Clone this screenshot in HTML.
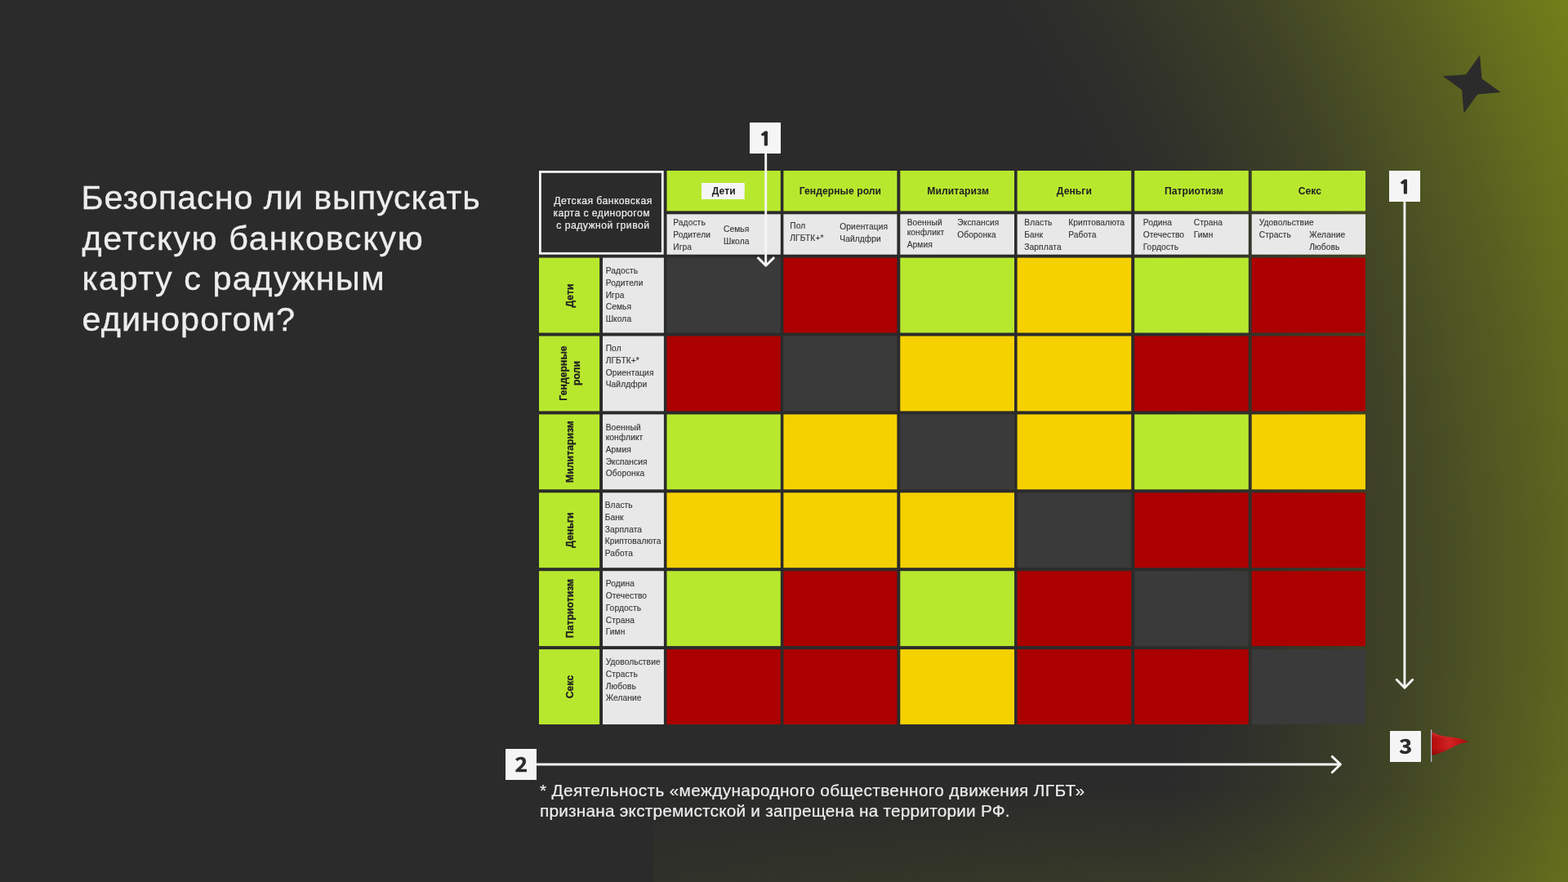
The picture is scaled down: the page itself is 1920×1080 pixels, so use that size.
<!DOCTYPE html>
<html lang="ru"><head><meta charset="utf-8"><title>Безопасно ли выпускать детскую банковскую карту с радужным единорогом?</title>
<style>
html,body{margin:0;padding:0;}
body{width:1920px;height:1080px;overflow:hidden;background:#2b2b2b;font-family:"Liberation Sans","DejaVu Sans",sans-serif;position:relative;}
.bg{position:absolute;left:0;top:0;width:1920px;height:1080px;}
.abs{position:absolute;}
.c{position:absolute;}
.title{position:absolute;left:100.6px;top:218.3px;font-size:41.3px;line-height:49.6px;color:#ededed;white-space:nowrap;-webkit-text-stroke:0.35px #ededed;}
.title div{height:49.6px;}
.foot{position:absolute;left:661px;top:954.8px;font-size:20.8px;line-height:25px;color:#ededed;white-space:nowrap;letter-spacing:0.345px;-webkit-text-stroke:0.2px #ededed;}
.h{position:absolute;font-weight:bold;font-size:12.1px;line-height:16px;color:#222;text-align:center;white-space:nowrap;letter-spacing:0.08px;}
.t{position:absolute;font-size:10.2px;line-height:14px;height:14px;color:#383838;white-space:nowrap;letter-spacing:0.1px;-webkit-text-stroke:0.15px #383838;}
.v{position:absolute;font-weight:bold;font-size:12.2px;line-height:16px;color:#222;text-align:center;white-space:nowrap;transform:translate(-50%,-50%) rotate(-90deg);letter-spacing:0.05px;-webkit-text-stroke:0.3px #222;}
.n{position:absolute;width:38px;height:38px;background:#f5f5f5;color:#2b2b2b;font-family:"Noto Sans CJK SC","Liberation Sans",sans-serif;font-weight:bold;font-size:24.5px;line-height:36.4px;text-align:center;-webkit-text-stroke:0.45px #2b2b2b;}
.n1{font-family:"NanumGothic","Noto Sans CJK SC","Liberation Sans",sans-serif;font-size:21.8px;line-height:41.6px;text-indent:0.7px;-webkit-text-stroke:1px #2b2b2b;}
.card{position:absolute;left:660px;top:209px;width:146.7px;height:96.7px;border:3px solid #f5f5f5;background:#2b2b2b;}
.cardt{position:absolute;font-size:12.2px;line-height:15px;color:#ededed;white-space:nowrap;letter-spacing:0.3px;-webkit-text-stroke:0.2px #ededed;}
</style></head><body>
<div class="bg" style="background:radial-gradient(circle 1960px at 150px 730px,rgba(116,129,25,0.000) 1300px,rgba(116,129,25,0.018) 1330px,rgba(116,129,25,0.040) 1360px,rgba(116,129,25,0.066) 1390px,rgba(116,129,25,0.096) 1420px,rgba(116,129,25,0.134) 1450px,rgba(116,129,25,0.173) 1480px,rgba(116,129,25,0.209) 1510px,rgba(116,129,25,0.247) 1540px,rgba(116,129,25,0.292) 1570px,rgba(116,129,25,0.346) 1600px,rgba(116,129,25,0.405) 1630px,rgba(116,129,25,0.469) 1660px,rgba(116,129,25,0.526) 1690px,rgba(116,129,25,0.582) 1720px,rgba(116,129,25,0.645) 1750px,rgba(116,129,25,0.712) 1780px,rgba(116,129,25,0.775) 1810px,rgba(116,129,25,0.835) 1840px,rgba(116,129,25,0.899) 1870px,rgba(116,129,25,0.962) 1900px,rgba(116,129,25,0.990) 1930px,rgba(116,129,25,1.000) 1960px);"></div>
<div class="abs" style="left:800px;top:960px;width:1120px;height:120px;background:linear-gradient(90deg,rgba(116,129,25,0.075),rgba(116,129,25,0.17) 560px,rgba(116,129,25,0.12) 1120px);-webkit-mask-image:linear-gradient(180deg,rgba(0,0,0,0),rgba(0,0,0,1));mask-image:linear-gradient(180deg,rgba(0,0,0,0),rgba(0,0,0,1));"></div>
<div class="title"><div style="letter-spacing:0.93px;margin-left:-1px">Безопасно ли выпускать</div><div style="letter-spacing:1.67px">детскую банковскую</div><div style="letter-spacing:1.52px">карту с радужным</div><div style="letter-spacing:1.1px">единорогом?</div></div>
<svg class="abs" style="left:0;top:0" width="1920" height="1080" viewBox="0 0 1920 1080">
<rect x="661.4" y="210.4" width="149.9" height="99.9" fill="#2b2b2b" stroke="#f5f5f5" stroke-width="2.8"/>
<rect x="816.5" y="209" width="139.3" height="49.4" fill="#b8e82e"/>
<rect x="816.5" y="262.3" width="139.3" height="49.4" fill="#e8e8e8"/>
<rect x="859" y="224" width="52.7" height="20" fill="#f5f5f5"/>
<rect x="959.4" y="209" width="139.0" height="49.4" fill="#b8e82e"/>
<rect x="959.4" y="262.3" width="139.0" height="49.4" fill="#e8e8e8"/>
<rect x="1102.3" y="209" width="139.7" height="49.4" fill="#b8e82e"/>
<rect x="1102.3" y="262.3" width="139.7" height="49.4" fill="#e8e8e8"/>
<rect x="1245.6" y="209" width="139.6" height="49.4" fill="#b8e82e"/>
<rect x="1245.6" y="262.3" width="139.6" height="49.4" fill="#e8e8e8"/>
<rect x="1389.2" y="209" width="139.6" height="49.4" fill="#b8e82e"/>
<rect x="1389.2" y="262.3" width="139.6" height="49.4" fill="#e8e8e8"/>
<rect x="1532.7" y="209" width="139.3" height="49.4" fill="#b8e82e"/>
<rect x="1532.7" y="262.3" width="139.3" height="49.4" fill="#e8e8e8"/>
<rect x="660" y="315.6" width="74.1" height="91.9" fill="#b8e82e"/>
<rect x="738" y="315.6" width="74.9" height="91.9" fill="#e8e8e8"/>
<rect x="816.5" y="315.6" width="139.3" height="91.9" fill="#3a3a3a"/>
<rect x="959.4" y="315.6" width="139.0" height="91.9" fill="#ab0000"/>
<rect x="1102.3" y="315.6" width="139.7" height="91.9" fill="#b8e82e"/>
<rect x="1245.6" y="315.6" width="139.6" height="91.9" fill="#f5d100"/>
<rect x="1389.2" y="315.6" width="139.6" height="91.9" fill="#b8e82e"/>
<rect x="1532.7" y="315.6" width="139.3" height="91.9" fill="#ab0000"/>
<rect x="660" y="411.5" width="74.1" height="91.9" fill="#b8e82e"/>
<rect x="738" y="411.5" width="74.9" height="91.9" fill="#e8e8e8"/>
<rect x="816.5" y="411.5" width="139.3" height="91.9" fill="#ab0000"/>
<rect x="959.4" y="411.5" width="139.0" height="91.9" fill="#3a3a3a"/>
<rect x="1102.3" y="411.5" width="139.7" height="91.9" fill="#f5d100"/>
<rect x="1245.6" y="411.5" width="139.6" height="91.9" fill="#f5d100"/>
<rect x="1389.2" y="411.5" width="139.6" height="91.9" fill="#ab0000"/>
<rect x="1532.7" y="411.5" width="139.3" height="91.9" fill="#ab0000"/>
<rect x="660" y="507.4" width="74.1" height="91.9" fill="#b8e82e"/>
<rect x="738" y="507.4" width="74.9" height="91.9" fill="#e8e8e8"/>
<rect x="816.5" y="507.4" width="139.3" height="91.9" fill="#b8e82e"/>
<rect x="959.4" y="507.4" width="139.0" height="91.9" fill="#f5d100"/>
<rect x="1102.3" y="507.4" width="139.7" height="91.9" fill="#3a3a3a"/>
<rect x="1245.6" y="507.4" width="139.6" height="91.9" fill="#f5d100"/>
<rect x="1389.2" y="507.4" width="139.6" height="91.9" fill="#b8e82e"/>
<rect x="1532.7" y="507.4" width="139.3" height="91.9" fill="#f5d100"/>
<rect x="660" y="603.3" width="74.1" height="91.9" fill="#b8e82e"/>
<rect x="738" y="603.3" width="74.9" height="91.9" fill="#e8e8e8"/>
<rect x="816.5" y="603.3" width="139.3" height="91.9" fill="#f5d100"/>
<rect x="959.4" y="603.3" width="139.0" height="91.9" fill="#f5d100"/>
<rect x="1102.3" y="603.3" width="139.7" height="91.9" fill="#f5d100"/>
<rect x="1245.6" y="603.3" width="139.6" height="91.9" fill="#3a3a3a"/>
<rect x="1389.2" y="603.3" width="139.6" height="91.9" fill="#ab0000"/>
<rect x="1532.7" y="603.3" width="139.3" height="91.9" fill="#ab0000"/>
<rect x="660" y="699.2" width="74.1" height="91.9" fill="#b8e82e"/>
<rect x="738" y="699.2" width="74.9" height="91.9" fill="#e8e8e8"/>
<rect x="816.5" y="699.2" width="139.3" height="91.9" fill="#b8e82e"/>
<rect x="959.4" y="699.2" width="139.0" height="91.9" fill="#ab0000"/>
<rect x="1102.3" y="699.2" width="139.7" height="91.9" fill="#b8e82e"/>
<rect x="1245.6" y="699.2" width="139.6" height="91.9" fill="#ab0000"/>
<rect x="1389.2" y="699.2" width="139.6" height="91.9" fill="#3a3a3a"/>
<rect x="1532.7" y="699.2" width="139.3" height="91.9" fill="#ab0000"/>
<rect x="660" y="795.1" width="74.1" height="91.9" fill="#b8e82e"/>
<rect x="738" y="795.1" width="74.9" height="91.9" fill="#e8e8e8"/>
<rect x="816.5" y="795.1" width="139.3" height="91.9" fill="#ab0000"/>
<rect x="959.4" y="795.1" width="139.0" height="91.9" fill="#ab0000"/>
<rect x="1102.3" y="795.1" width="139.7" height="91.9" fill="#f5d100"/>
<rect x="1245.6" y="795.1" width="139.6" height="91.9" fill="#ab0000"/>
<rect x="1389.2" y="795.1" width="139.6" height="91.9" fill="#ab0000"/>
<rect x="1532.7" y="795.1" width="139.3" height="91.9" fill="#3a3a3a"/>
</svg>
<div class="cardt" style="left:678.2px;top:239.3px;letter-spacing:0.45px">Детская банковская</div>
<div class="cardt" style="left:677.4px;top:254.3px;letter-spacing:0.43px">карта с единорогом</div>
<div class="cardt" style="left:681.3px;top:269.1px;letter-spacing:0.47px">с радужной гривой</div>

<div class="h" style="left:816.5px;top:226.4px;width:139.3px;">Дети</div>
<div class="t" style="left:824.3px;top:265.7px">Радость</div>
<div class="t" style="left:824.3px;top:280.7px">Родители</div>
<div class="t" style="left:824.3px;top:295.7px">Игра</div>
<div class="t" style="left:886.0px;top:273.7px">Семья</div>
<div class="t" style="left:886.0px;top:288.7px">Школа</div>
<div class="h" style="left:959.4px;top:226.4px;width:139.0px;">Гендерные роли</div>
<div class="t" style="left:967.3px;top:270.1px">Пол</div>
<div class="t" style="left:967.3px;top:285.1px">ЛГБТК+*</div>
<div class="t" style="left:1028.3px;top:271.1px">Ориентация</div>
<div class="t" style="left:1028.3px;top:286.1px">Чайлдфри</div>
<div class="h" style="left:1103.3px;top:226.4px;width:139.7px;">Милитаризм</div>
<div class="t" style="left:1110.7px;top:265.7px">Военный</div>
<div class="t" style="left:1110.7px;top:278.1px">конфликт</div>
<div class="t" style="left:1110.7px;top:292.7px">Армия</div>
<div class="t" style="left:1172.3px;top:265.7px">Экспансия</div>
<div class="t" style="left:1172.3px;top:280.7px">Оборонка</div>
<div class="h" style="left:1245.6px;top:226.4px;width:139.6px;">Деньги</div>
<div class="t" style="left:1254.3px;top:265.7px">Власть</div>
<div class="t" style="left:1254.3px;top:280.7px">Банк</div>
<div class="t" style="left:1254.3px;top:295.7px">Зарплата</div>
<div class="t" style="left:1308.3px;top:265.7px">Криптовалюта</div>
<div class="t" style="left:1308.3px;top:280.7px">Работа</div>
<div class="h" style="left:1392.2px;top:226.4px;width:139.6px;">Патриотизм</div>
<div class="t" style="left:1399.7px;top:265.7px">Родина</div>
<div class="t" style="left:1399.7px;top:280.7px">Отечество</div>
<div class="t" style="left:1399.7px;top:295.7px">Гордость</div>
<div class="t" style="left:1461.7px;top:265.7px">Страна</div>
<div class="t" style="left:1461.7px;top:280.7px">Гимн</div>
<div class="h" style="left:1534.2px;top:226.4px;width:139.3px;">Секс</div>
<div class="t" style="left:1541.7px;top:265.7px">Удовольствие</div>
<div class="t" style="left:1541.7px;top:280.7px">Страсть</div>
<div class="t" style="left:1603.3px;top:280.7px">Желание</div>
<div class="t" style="left:1603.3px;top:295.7px">Любовь</div>
<div class="v" style="left:697.5px;top:361.6px;">Дети</div>
<div class="t" style="left:741.7px;top:325.1px">Радость</div>
<div class="t" style="left:741.7px;top:340.1px">Родители</div>
<div class="t" style="left:741.7px;top:354.7px">Игра</div>
<div class="t" style="left:741.7px;top:369.4px">Семья</div>
<div class="t" style="left:741.7px;top:384.1px">Школа</div>
<div class="v" style="left:697.5px;top:457.4px;">Гендерные<br>роли</div>
<div class="t" style="left:741.7px;top:420.1px">Пол</div>
<div class="t" style="left:741.7px;top:435.1px">ЛГБТК+*</div>
<div class="t" style="left:741.7px;top:450.1px">Ориентация</div>
<div class="t" style="left:741.7px;top:464.4px">Чайлдфри</div>
<div class="v" style="left:697.5px;top:553.4px;">Милитаризм</div>
<div class="t" style="left:741.7px;top:516.7px">Военный</div>
<div class="t" style="left:741.7px;top:528.7px">конфликт</div>
<div class="t" style="left:741.7px;top:543.7px">Армия</div>
<div class="t" style="left:741.7px;top:558.7px">Экспансия</div>
<div class="t" style="left:741.7px;top:572.7px">Оборонка</div>
<div class="v" style="left:697.5px;top:649.3px;">Деньги</div>
<div class="t" style="left:740.7px;top:612.1px">Власть</div>
<div class="t" style="left:740.7px;top:627.1px">Банк</div>
<div class="t" style="left:740.7px;top:642.4px">Зарплата</div>
<div class="t" style="left:740.7px;top:656.4px">Криптовалюта</div>
<div class="t" style="left:740.7px;top:671.1px">Работа</div>
<div class="v" style="left:697.5px;top:745.2px;">Патриотизм</div>
<div class="t" style="left:741.7px;top:708.4px">Родина</div>
<div class="t" style="left:741.7px;top:723.4px">Отечество</div>
<div class="t" style="left:741.7px;top:738.4px">Гордость</div>
<div class="t" style="left:741.7px;top:752.7px">Страна</div>
<div class="t" style="left:741.7px;top:767.4px">Гимн</div>
<div class="v" style="left:697.5px;top:841.1px;">Секс</div>
<div class="t" style="left:741.7px;top:803.7px">Удовольствие</div>
<div class="t" style="left:741.7px;top:818.7px">Страсть</div>
<div class="t" style="left:741.7px;top:833.7px">Любовь</div>
<div class="t" style="left:741.7px;top:847.7px">Желание</div>
<svg class="abs" style="left:0;top:0" width="1920" height="1080" viewBox="0 0 1920 1080">
<polygon points="1812,67.5 1814.5,96.2 1837.5,113 1809.2,115.5 1792.5,138.8 1790,110 1766.7,93.3 1795,91.2" fill="#2b2b2b"/>
<g fill="none" stroke="#f5f5f5" stroke-width="2.9" stroke-linecap="round" stroke-linejoin="round">
<path d="M937.7 189V325.2M928.4 315.9L937.8 325.2L947.3 315.9"/>
<path d="M1719.9 248V842.2M1710.2 832.3L1719.95 842.2L1729.7 832.3"/>
<path d="M658 936.05H1641.3M1631.25 926.4L1641.4 936.05L1631.25 945.7"/>
</g>
<defs><linearGradient id="fs" x1="0" y1="895" x2="0" y2="925" gradientUnits="userSpaceOnUse"><stop offset="0" stop-color="#ff9a9a" stop-opacity="0.35"/><stop offset="0.3" stop-color="#ff9a9a" stop-opacity="0"/><stop offset="0.7" stop-color="#400" stop-opacity="0"/><stop offset="1" stop-color="#400" stop-opacity="0.35"/></linearGradient><linearGradient id="fl" x1="1753" y1="0" x2="1798" y2="0" gradientUnits="userSpaceOnUse"><stop offset="0" stop-color="#b40a0a"/><stop offset="0.12" stop-color="#bb1010"/><stop offset="0.5" stop-color="#d02323"/><stop offset="0.75" stop-color="#c41616"/><stop offset="1" stop-color="#a00808"/></linearGradient></defs>
<path d="M1752.6 893.4V933" stroke="#a9bccd" stroke-width="1.3" fill="none"/>
<path d="M1753.3 895.9Q1758 898.8 1764 900.4Q1771 902 1778.9 902.8Q1790 904.2 1798.2 908.4Q1792 909 1786.3 911.3L1775.2 916.7Q1769 919.9 1764 921.8Q1759 923.9 1753.3 924.6Z" fill="url(#fl)"/>
<path d="M1753.3 895.9Q1758 898.8 1764 900.4Q1771 902 1778.9 902.8Q1790 904.2 1798.2 908.4Q1792 909 1786.3 911.3L1775.2 916.7Q1769 919.9 1764 921.8Q1759 923.9 1753.3 924.6Z" fill="url(#fs)"/>
</svg>
<div class="n n1" style="left:918px;top:150px;"><span style="display:inline-block;transform:scaleX(1.25)">1</span></div>
<div class="n n1" style="left:1701px;top:209px;"><span style="display:inline-block;transform:scaleX(1.25)">1</span></div>
<div class="n" style="left:619px;top:917px;"><span style="display:inline-block;transform:scaleX(1.08)">2</span></div>
<div class="n" style="left:1702px;top:895px;"><span style="display:inline-block;transform:scaleX(1.1)">3</span></div>
<div class="foot">* Деятельность «международного общественного движения ЛГБТ»<br><span style="letter-spacing:0.215px">признана экстремистской и запрещена на территории РФ.</span></div>
</body></html>
